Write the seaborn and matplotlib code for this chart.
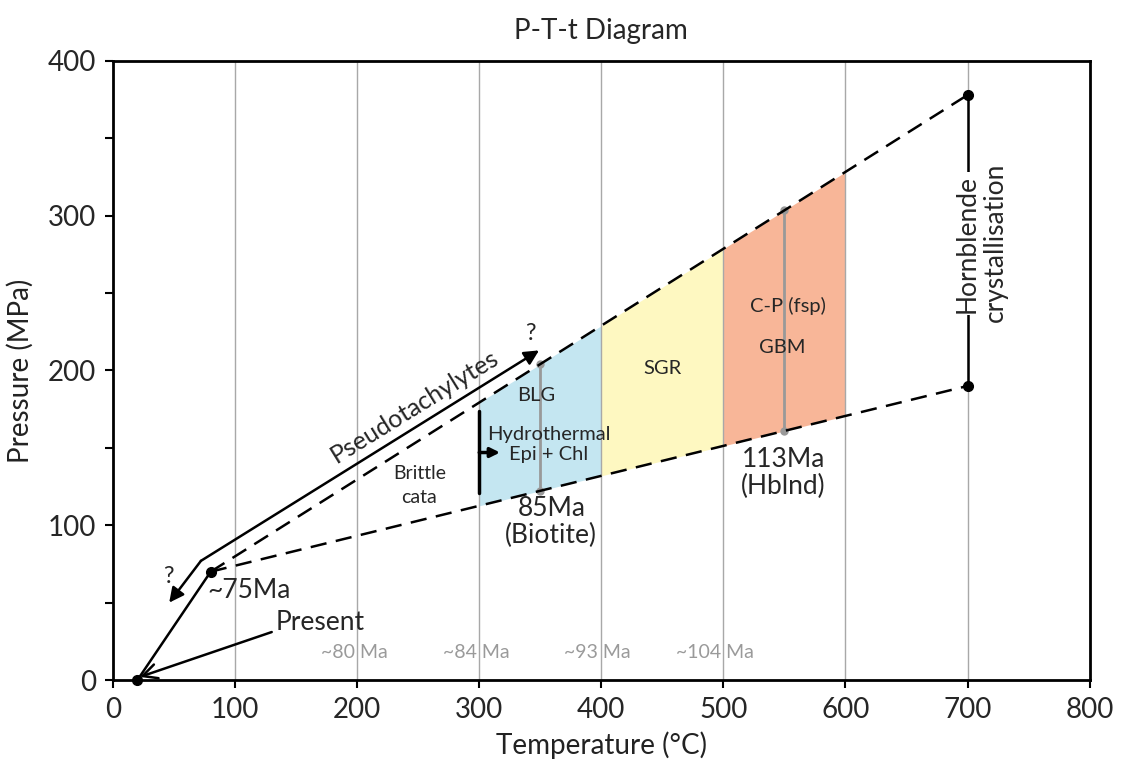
import numpy as np
import matplotlib
matplotlib.use("Agg")
import matplotlib.pyplot as plt
import seaborn as sns

# ---- data -------------------------------------------------------------
temp_ticks = [0, 100, 200, 300, 400, 500, 600, 700, 800]
pres_ticks = [0, 100, 200, 300, 400]
pres_minor = [50, 150, 250, 350]
grid_T = [100, 200, 300, 400, 500, 600, 700]

# P-T envelope (dashed) from the ~75 Ma point to hornblende crystallisation
upper_T = [80, 700]
upper_P = [70, 378]
lower_T = [80, 700]
lower_P = [70, 190]

# exhumation to the present
path_T = [20, 80]
path_P = [0, 70]
present_pt = (20, 0)
stage75_pt = (80, 70)

# pseudotachylyte path
pst_T = [72, 349]
pst_P = [77, 213]
pst_branch_end = (46, 50)

# hornblende crystallisation bar
hbl_T = [700, 700]
hbl_P = [190, 378]

# deformation zones
zone_edges = [300, 400, 500, 600]
zone_colors = ["#c4e6f1", "#fef8c1", "#f8b698"]

# dated samples
biotite_T = 350
hblnd_T = 550

# ages along the temperature axis
age_labels = ["~80 Ma", "~84 Ma", "~93 Ma", "~104 Ma"]
age_T = [198, 298, 397, 493]
age_P = 18

# hydrothermal front
hydro_T = 300
hydro_P = [121, 174]
hydro_arrow_P = 147

# ---- style ------------------------------------------------------------
sns.set_theme(style="white")
plt.rcParams["font.family"] = ["Lato", "DejaVu Sans"]

fig = plt.figure(figsize=(11.27, 7.67), dpi=100)
ax = fig.add_axes([0.1003, 0.1134, 0.8665, 0.8071])
ax.set_xlim(0, 800)
ax.set_ylim(0, 400)

# shaded zones bounded by the envelope
for (a, b), col in zip(zip(zone_edges[:-1], zone_edges[1:]), zone_colors):
    tt = np.linspace(a, b, 50)
    ax.fill_between(tt, np.interp(tt, lower_T, lower_P),
                    np.interp(tt, upper_T, upper_P),
                    color=col, lw=0, zorder=1)

# vertical guides
for t in grid_T:
    ax.axvline(t, color="#a8a8a8", lw=1.0, zorder=2)

# sample lines at biotite and hornblende temperatures
for t in (biotite_T, hblnd_T):
    p0 = np.interp(t, lower_T, lower_P)
    p1 = np.interp(t, upper_T, upper_P)
    ax.plot([t, t], [p0, p1], color="#999999", lw=2.0, zorder=3)
    ax.plot([t, t], [p0, p1], "o", color="#999999", ms=5, zorder=3)

dash = (0, (6.5, 3.8))
sns.lineplot(x=upper_T, y=upper_P, ax=ax, color="black", lw=1.8,
             linestyle=dash, sort=False, estimator=None, zorder=4)
sns.lineplot(x=lower_T, y=lower_P, ax=ax, color="black", lw=1.8,
             linestyle=dash, sort=False, estimator=None, zorder=4)

# exhumation path
sns.lineplot(x=path_T, y=path_P, ax=ax, color="black", lw=1.8,
             sort=False, estimator=None, zorder=5)
ax.plot(*present_pt, "o", color="black", ms=7, zorder=6, clip_on=False)
ax.plot(*stage75_pt, "o", color="black", ms=7, zorder=6)

# pseudotachylytes
ax.annotate("", xy=(pst_T[1], pst_P[1]), xytext=(pst_T[0], pst_P[0]),
            arrowprops=dict(arrowstyle="-|>", color="black", lw=1.8,
                            mutation_scale=22, shrinkA=0, shrinkB=0),
            zorder=5)
ax.annotate("", xy=pst_branch_end, xytext=(pst_T[0], pst_P[0]),
            arrowprops=dict(arrowstyle="-|>", color="black", lw=1.8,
                            mutation_scale=22, shrinkA=0, shrinkB=0),
            zorder=5)
ax.text(247, 177, "Pseudotachylytes", rotation=31.8, rotation_mode="anchor",
        ha="center", va="center", fontsize=18, zorder=7)
ax.text(342, 224, "?", ha="center", va="center", fontsize=17)
ax.text(45, 67, "?", ha="center", va="center", fontsize=17)

# present arrow
ax.annotate("", xy=(22, 2), xytext=(130, 31),
            arrowprops=dict(arrowstyle="->", color="black", lw=1.8,
                            mutation_scale=26, shrinkA=0, shrinkB=0),
            zorder=5)
ax.text(133, 37, "Present", ha="left", va="center", fontsize=19)
ax.text(77, 58, "~75Ma", ha="left", va="center", fontsize=19)

# hydrothermal front
ax.plot([hydro_T, hydro_T], hydro_P, color="black", lw=2.5, zorder=5)
ax.annotate("", xy=(hydro_T + 17, hydro_arrow_P), xytext=(hydro_T, hydro_arrow_P),
            arrowprops=dict(arrowstyle="-|>", color="black", lw=2.5,
                            mutation_scale=14, shrinkA=0, shrinkB=0),
            zorder=5)

# hornblende crystallisation
sns.lineplot(x=hbl_T, y=hbl_P, ax=ax, color="black", lw=1.8,
             sort=False, estimator=None, zorder=5)
ax.plot(hbl_T, hbl_P, "o", color="black", ms=7, zorder=6)
ax.text(700, 282, "Hornblende", rotation=90, ha="center", va="center",
        fontsize=19, zorder=7,
        bbox=dict(facecolor="white", edgecolor="none", pad=2))
ax.text(723, 283, "crystallisation", rotation=90, ha="center", va="center",
        fontsize=19, zorder=7)

# zone labels
ax.text(251, 126, "Brittle\ncata", ha="center", va="center", fontsize=14,
        linespacing=1.5, zorder=7)
ax.text(347, 184, "BLG", ha="center", va="center", fontsize=14.5, zorder=7)
ax.text(357, 152, "Hydrothermal\nEpi + Chl", ha="center", va="center",
        fontsize=14.5, linespacing=1.2, zorder=7)
ax.text(359, 102, "85Ma\n(Biotite)", ha="center", va="center",
        fontsize=19, linespacing=1.1, zorder=7)
ax.text(450, 201, "SGR", ha="center", va="center", fontsize=14.5, zorder=7)
ax.text(553, 242, "C-P (fsp)", ha="center", va="center", fontsize=14.5, zorder=7)
ax.text(548, 215, "GBM", ha="center", va="center", fontsize=14.5, zorder=7)
ax.text(549, 134, "113Ma\n(Hblnd)", ha="center", va="center",
        fontsize=19, linespacing=1.1, zorder=7)

for lab, t in zip(age_labels, age_T):
    ax.text(t, age_P, lab, ha="center", va="center", fontsize=14,
            color="#9a9a9a", zorder=7)

# axes
ax.set_xticks(temp_ticks)
ax.set_yticks(pres_ticks)
ax.set_yticks(pres_minor, minor=True)
ax.tick_params(axis="both", which="major", direction="out", length=6,
               width=1.5, color="black", labelsize=20, pad=6,
               bottom=True, left=True)
ax.tick_params(axis="y", which="minor", direction="out", length=6,
               width=1.5, color="black", left=True)
for s in ax.spines.values():
    s.set_color("black")
    s.set_linewidth(2.0)
    s.set_zorder(8)

ax.set_xlabel("Temperature (°C)", fontsize=20, labelpad=6, color="#222222")
ax.set_ylabel("Pressure (MPa)", fontsize=20, labelpad=10, color="#222222")
ax.set_title("P-T-t Diagram", fontsize=20, pad=16)

fig.savefig("out.png", dpi=100)
